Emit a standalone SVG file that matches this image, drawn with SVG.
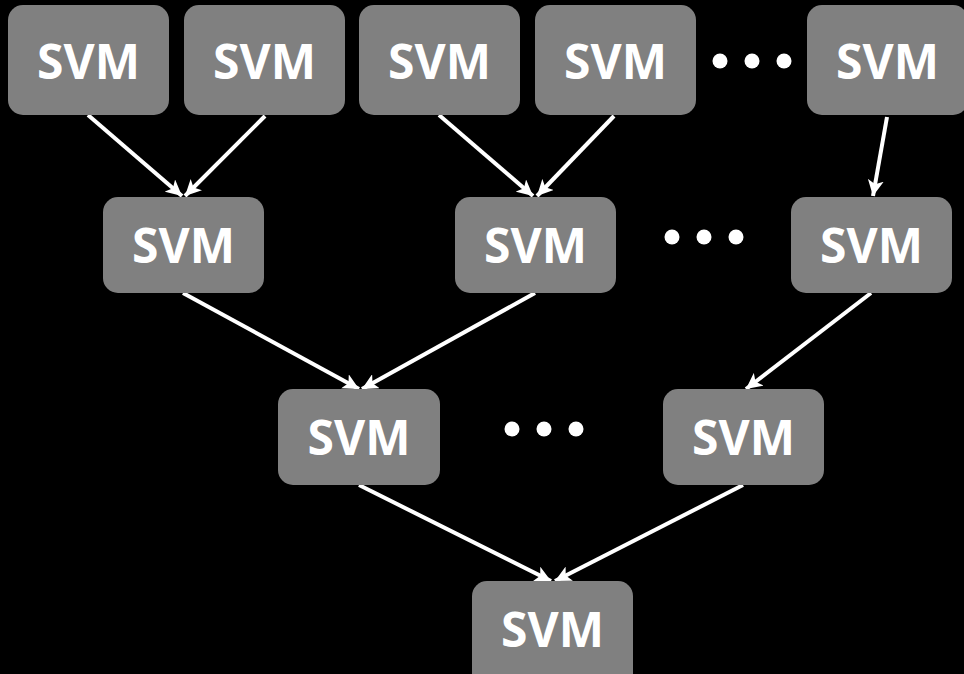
<svg xmlns="http://www.w3.org/2000/svg" width="964" height="674" viewBox="0 0 964 674">
  <defs>
    <marker id="head" markerUnits="userSpaceOnUse" markerWidth="18" markerHeight="16" refX="16" refY="8" orient="auto">
      <path d="M0,0 L16,8 L0,16 L4,8 Z" fill="#fff"/>
    </marker>
    <style>
      .box { fill: #808080; }
      .lbl { fill: #fff; font-family: "Open Sans", "Liberation Sans", sans-serif; font-weight: bold; font-size: 48px; text-anchor: middle; }
      .edge { stroke: #fff; stroke-width: 4; fill: none; marker-end: url(#head); }
      .dot { fill: #fff; }
    </style>
  </defs>
  <rect width="964" height="674" fill="#000"/>

  <!-- connectors -->
  <g id="connectors">
    <line class="edge" x1="88" y1="115" x2="182" y2="196"/>
    <line class="edge" x1="265" y1="116" x2="185" y2="196"/>
    <line class="edge" x1="439" y1="115" x2="533" y2="196"/>
    <line class="edge" x1="614" y1="116" x2="537" y2="196"/>
    <line class="edge" x1="887" y1="117" x2="873" y2="196"/>
    <line class="edge" x1="183" y1="293" x2="359" y2="389"/>
    <line class="edge" x1="535" y1="293" x2="362" y2="389"/>
    <line class="edge" x1="871" y1="293" x2="746" y2="389"/>
    <line class="edge" x1="359" y1="485" x2="551" y2="581"/>
    <line class="edge" x1="743" y1="485" x2="555" y2="581"/>
  </g>

  <!-- top row -->
  <g id="n1"><rect class="box" x="8" y="5" width="161" height="110" rx="15"/><text class="lbl" x="88.5" y="79">SVM</text></g>
  <g id="n2"><rect class="box" x="184" y="5" width="161" height="110" rx="15"/><text class="lbl" x="264.5" y="79">SVM</text></g>
  <g id="n3"><rect class="box" x="359" y="5" width="161" height="110" rx="15"/><text class="lbl" x="439.5" y="79">SVM</text></g>
  <g id="n4"><rect class="box" x="535" y="5" width="161" height="110" rx="15"/><text class="lbl" x="615.5" y="79">SVM</text></g>
  <g id="n5"><rect class="box" x="807" y="5" width="161" height="110" rx="15"/><text class="lbl" x="887.5" y="79">SVM</text></g>
  <g id="dots1"><circle class="dot" cx="720" cy="61" r="7.5"/><circle class="dot" cx="752" cy="61" r="7.5"/><circle class="dot" cx="784" cy="61" r="7.5"/></g>

  <!-- second row -->
  <g id="n6"><rect class="box" x="103" y="197" width="161" height="96" rx="15"/><text class="lbl" x="183.5" y="263">SVM</text></g>
  <g id="n7"><rect class="box" x="455" y="197" width="161" height="96" rx="15"/><text class="lbl" x="535.5" y="263">SVM</text></g>
  <g id="n8"><rect class="box" x="791" y="197" width="161" height="96" rx="15"/><text class="lbl" x="871.5" y="263">SVM</text></g>
  <g id="dots2"><circle class="dot" cx="672" cy="237" r="7.5"/><circle class="dot" cx="704" cy="237" r="7.5"/><circle class="dot" cx="736" cy="237" r="7.5"/></g>

  <!-- third row -->
  <g id="n9"><rect class="box" x="278" y="389" width="162" height="96" rx="15"/><text class="lbl" x="359" y="455">SVM</text></g>
  <g id="n10"><rect class="box" x="663" y="389" width="161" height="96" rx="15"/><text class="lbl" x="743.5" y="455">SVM</text></g>
  <g id="dots3"><circle class="dot" cx="512" cy="429" r="7.5"/><circle class="dot" cx="544" cy="429" r="7.5"/><circle class="dot" cx="576" cy="429" r="7.5"/></g>

  <!-- root -->
  <g id="n11"><rect class="box" x="472" y="581" width="161" height="110" rx="15"/><text class="lbl" x="552.5" y="647">SVM</text></g>
</svg>
